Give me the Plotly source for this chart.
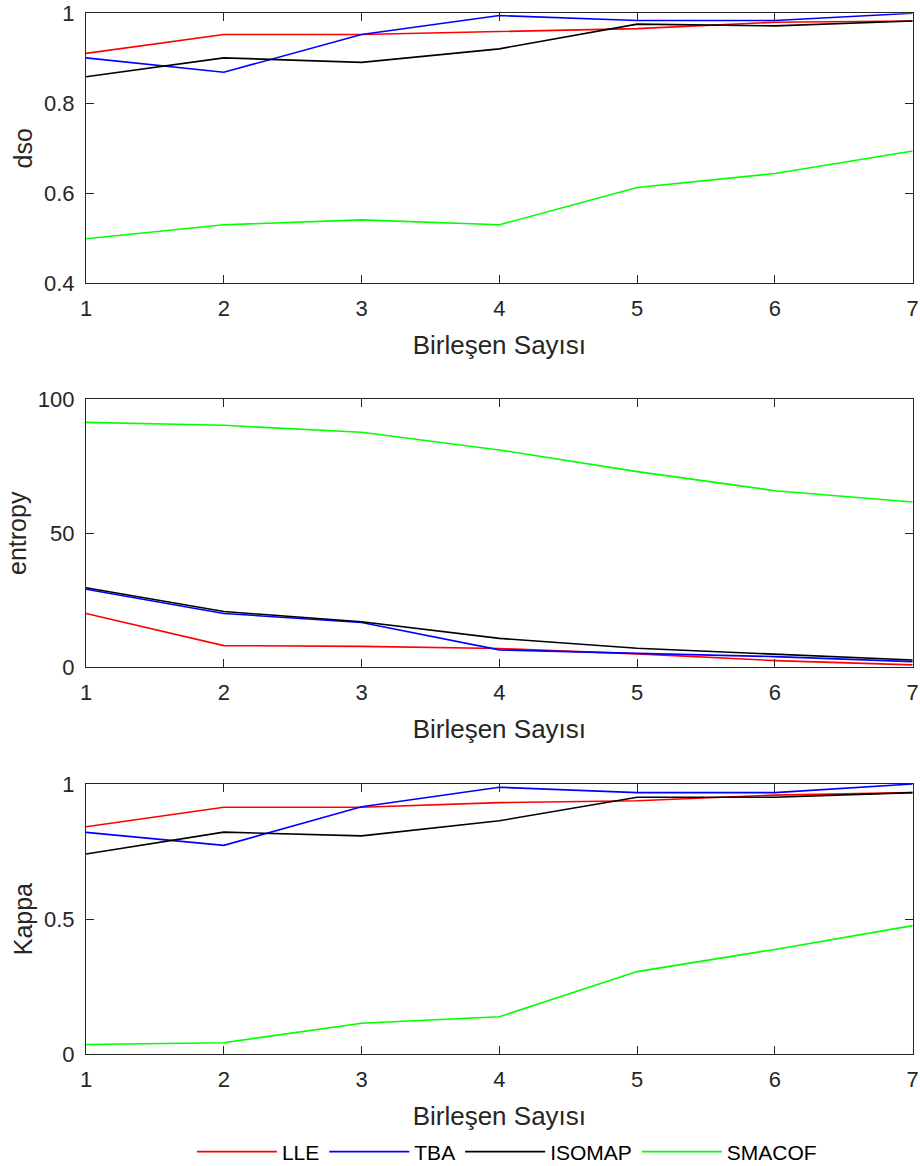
import plotly.graph_objects as go

x_vals = [1, 2, 3, 4, 5, 6, 7]
x_label = "Birleşen Sayısı"
series_names = ["LLE", "TBA", "ISOMAP", "SMACOF"]
series_colors = ["#ff0000", "#0000ff", "#000000", "#00ff00"]

dso_lle = [0.911, 0.953, 0.953, 0.960, 0.966, 0.980, 0.983]
dso_tba = [0.901, 0.869, 0.953, 0.995, 0.984, 0.984, 1.000]
dso_isomap = [0.859, 0.901, 0.891, 0.921, 0.976, 0.972, 0.983]
dso_smacof = [0.499, 0.530, 0.541, 0.530, 0.613, 0.644, 0.694]

ent_lle = [20.1, 8.1, 7.8, 7.0, 5.0, 2.5, 0.9]
ent_tba = [29.1, 20.1, 16.7, 6.5, 5.2, 4.0, 2.1]
ent_isomap = [29.7, 20.8, 17.0, 10.8, 7.1, 5.0, 2.7]
ent_smacof = [91.4, 90.3, 87.7, 81.1, 73.0, 65.9, 61.7]

kap_lle = [0.842, 0.914, 0.914, 0.931, 0.938, 0.959, 0.968]
kap_tba = [0.821, 0.773, 0.916, 0.988, 0.968, 0.968, 1.000]
kap_isomap = [0.741, 0.822, 0.808, 0.864, 0.951, 0.951, 0.968]
kap_smacof = [0.036, 0.043, 0.115, 0.139, 0.306, 0.388, 0.476]

panels = [
    ("dso", [dso_lle, dso_tba, dso_isomap, dso_smacof], [0.4, 1], [0.4, 0.6, 0.8, 1.0], ["0.4", "0.6", "0.8", "1"]),
    ("entropy", [ent_lle, ent_tba, ent_isomap, ent_smacof], [0, 100], [0, 50, 100], ["0", "50", "100"]),
    ("Kappa", [kap_lle, kap_tba, kap_isomap, kap_smacof], [0, 1], [0, 0.5, 1], ["0", "0.5", "1"]),
]

H = 1166.0
W = 920.0
x_dom = [86 / W, 912.7 / W]
y_doms = [
    [1 - 283.3 / H, 1 - 13.3 / H],
    [1 - 667.3 / H, 1 - 399.3 / H],
    [1 - 1054.3 / H, 1 - 784.0 / H],
]

FONT = "Liberation Sans, Arial, sans-serif"
AXC = "#262626"

fig = go.Figure()
layout = dict(
    width=920, height=1166,
    margin=dict(l=0, r=0, t=0, b=0, autoexpand=False),
    paper_bgcolor="white", plot_bgcolor="white",
    font=dict(family=FONT, color=AXC, size=22),
    showlegend=True,
    legend=dict(orientation="h", x=0.551, xanchor="center", y=1 - 1152 / H, yanchor="middle",
                font=dict(size=21, color="#000000"), bgcolor="rgba(0,0,0,0)",
                itemwidth=80, tracegroupgap=0),
)

for i, (ytitle, series, yr, tv, tt) in enumerate(panels):
    sfx = "" if i == 0 else str(i + 1)
    for j, name in enumerate(series_names):
        fig.add_trace(go.Scatter(
            x=x_vals, y=series[j], mode="lines", name=name,
            line=dict(color=series_colors[j], width=1.6),
            xaxis="x" + sfx, yaxis="y" + sfx,
            showlegend=(i == 2), legendgroup=name,
        ))
    layout["xaxis" + sfx] = dict(
        domain=x_dom, anchor="y" + sfx, range=[1, 7], automargin=False,
        tickvals=x_vals, ticktext=[str(v) for v in x_vals],
        ticks="inside", ticklen=8, tickcolor=AXC, tickwidth=1,
        showline=True, linecolor=AXC, linewidth=1.2, mirror="ticks",
        showgrid=False, zeroline=False,
        tickfont=dict(size=22, color=AXC), ticklabelstandoff=5,
        title=dict(text=x_label, font=dict(size=26, color=AXC), standoff=16),
    )
    layout["yaxis" + sfx] = dict(
        domain=y_doms[i], anchor="x" + sfx, range=yr, automargin=False,
        tickvals=tv, ticktext=tt,
        ticks="inside", ticklen=8, tickcolor=AXC, tickwidth=1,
        showline=True, linecolor=AXC, linewidth=1.2, mirror="ticks",
        showgrid=False, zeroline=False,
        tickfont=dict(size=22, color=AXC), ticklabelstandoff=6,
        title=dict(text=ytitle, font=dict(size=25, color=AXC), standoff=4),
    )

fig.update_layout(**layout)
fig.write_html("out.html")
